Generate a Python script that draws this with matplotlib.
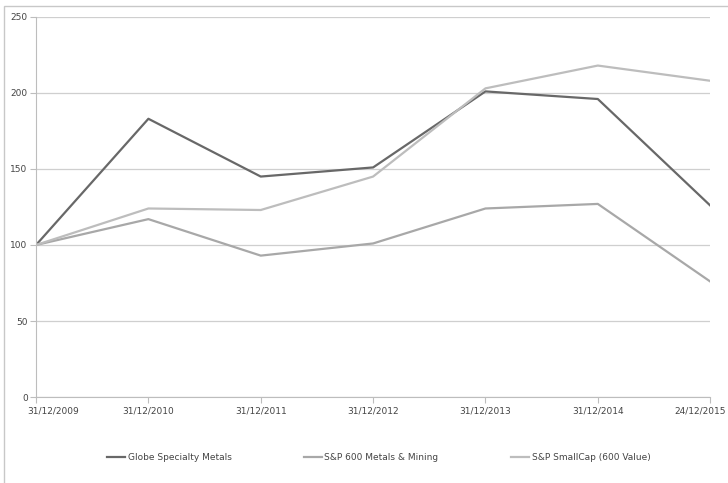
import matplotlib
matplotlib.use("Agg")
import matplotlib.pyplot as plt
import matplotlib.transforms as mtransforms
from matplotlib.patches import Rectangle

# Data
dates = ["31/12/2009", "31/12/2010", "31/12/2011", "31/12/2012",
         "31/12/2013", "31/12/2014", "24/12/2015"]
globe = [100, 183, 145, 151, 201, 196, 126]
metals_mining = [100, 117, 93, 101, 124, 127, 76]
smallcap_value = [100, 124, 123, 145, 203, 218, 208]

series = [
    ("Globe Specialty Metals", globe, "#686868"),
    ("S&P 600 Metals & Mining", metals_mining, "#a8a8a8"),
    ("S&P SmallCap (600 Value)", smallcap_value, "#bdbdbd"),
]

fig = plt.figure(figsize=(7.28, 4.83), dpi=100)
ax = fig.add_axes([0.0495, 0.178, 0.926, 0.787])

x = list(range(len(dates)))
for name, vals, col in series:
    ax.plot(x, vals, color=col, lw=1.6, label=name)

ax.set_xlim(0, len(dates) - 1)
ax.set_ylim(0, 250)
ax.set_yticks([0, 50, 100, 150, 200, 250])
ax.set_xticks(x)
ax.set_xticklabels(dates)
ax.grid(axis="y", color="#cfcfcf", lw=0.9)
ax.set_axisbelow(True)

for s in ["top", "right"]:
    ax.spines[s].set_visible(False)
ax.spines["left"].set_color("#bdbdbd")
ax.spines["bottom"].set_color("#bdbdbd")
ax.tick_params(axis="y", length=4, color="#bdbdbd", labelsize=6.5, labelcolor="#444444", pad=2)
ax.tick_params(axis="x", length=4, color="#bdbdbd", labelsize=6.5, labelcolor="#444444", pad=3)

# first and last date labels are nudged to stay inside the figure
labels = ax.get_xticklabels()
labels[0].set_horizontalalignment("left")
labels[0].set_transform(labels[0].get_transform() +
                        mtransforms.ScaledTranslation(-0.09, 0, fig.dpi_scale_trans))
labels[-1].set_horizontalalignment("right")
labels[-1].set_transform(labels[-1].get_transform() +
                         mtransforms.ScaledTranslation(0.16, 0, fig.dpi_scale_trans))

fig.legend(loc="center", bbox_to_anchor=(0.52, 0.052), ncol=3, frameon=False,
           fontsize=6.5, handlelength=2.0, handletextpad=0.3, columnspacing=8,
           labelcolor="#444444")

fig.patches.append(Rectangle((0.006, -0.01), 1.2, 0.998, transform=fig.transFigure,
                             fill=False, edgecolor="#c8c8c8", lw=1))

fig.savefig("out.png", dpi=100, facecolor="white")
